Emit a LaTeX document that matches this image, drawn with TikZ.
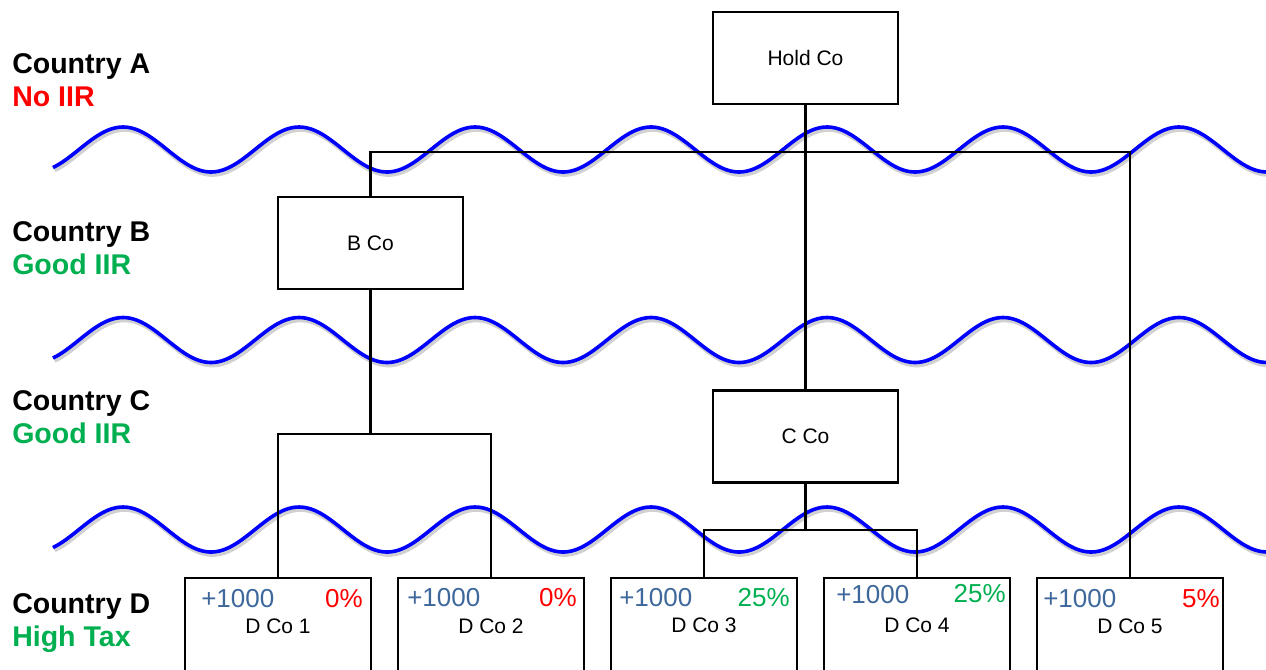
\documentclass[tikz,border=0pt]{standalone}
\usepackage{fontspec}
\setmainfont{Liberation Sans}
\definecolor{iirred}{RGB}{255,0,0}
\definecolor{iirgreen}{RGB}{0,176,80}
\definecolor{wavecol}{RGB}{0,0,255}
\definecolor{amtcol}{RGB}{62,104,156}
\begin{document}
\begin{tikzpicture}[x=0.75pt,y=-0.75pt,
  cobox/.style={draw, line width=1.9pt, fill=white, inner sep=0pt,
    minimum width=138.75pt, minimum height=69pt,
    font=\fontsize{15.75}{18}\selectfont},
  dbox/.style={draw, line width=1.9pt, fill=white, inner sep=0pt,
    minimum width=139.5pt, minimum height=90pt},
  link/.style={line width=1.6pt, black},
  wavel/.style={line width=2.7pt, wavecol},
  waveshadow/.style={line width=3.5pt, black!18},
  country/.style={inner sep=0pt, anchor=base west, font=\bfseries\fontsize{21.4}{25}\selectfont},
  amt/.style={inner sep=0pt, anchor=base west, text=amtcol, font=\fontsize{19.5}{22}\selectfont},
  pct/.style={inner sep=0pt, anchor=base east, font=\fontsize{19.5}{22}\selectfont},
  dname/.style={inner sep=0pt, anchor=base, font=\fontsize{15.75}{18}\selectfont}]
\useasboundingbox (0,0) rectangle (1266,669);
\clip (0,0) rectangle (1266,669);
\fill[white] (0,0) rectangle (1266,669);

% waves
\foreach \c in {149.5,340,529.5} {
  \draw[waveshadow] plot[domain=53:1266, samples=250, smooth]
    ({\x+1.5}, {\c+2.5-22.5*cos(2.0454545*(\x-123))});
  \draw[wavel] plot[domain=53:1266, samples=250, smooth]
    (\x, {\c-22.5*cos(2.0454545*(\x-123))});
}

% left labels
\node[country] (ca) at (12,73) {Country A};
\node[country, text=iirred] (ca2) at (12,106) {No IIR};
\node[country] (cb) at (12,241) {Country B};
\node[country, text=iirgreen] (cb2) at (12,274) {Good IIR};
\node[country] (cc) at (12,410) {Country C};
\node[country, text=iirgreen] (cc2) at (12,443) {Good IIR};
\node[country] (cd) at (12,613) {Country D};
\node[country, text=iirgreen] (cd2) at (12,646) {High Tax};

% company boxes
\node[cobox] (hold) at (805.5,58) {Hold Co};
\node[cobox] (bco) at (370.5,243) {B Co};
\node[cobox] (cco) at (805.5,436.5) {C Co};
\node[dbox] (d1) at (278,638) {};
\node[dbox] (d2) at (491,638) {};
\node[dbox] (d3) at (704,638) {};
\node[dbox] (d4) at (917,638) {};
\node[dbox] (d5) at (1130,638) {};

% connectors
\coordinate (ha) at (805.5,152);
\coordinate (hb) at (370.5,434);
\coordinate (hc) at (805.5,530);
\draw[link] (hold.south) -- (cco.north);
\draw[link] (bco.north) |- (ha) -| (d5.north);
\draw[link] (bco.south) -- (hb);
\draw[link] (d1.north) |- (hb) -| (d2.north);
\draw[link] (cco.south) -- (hc);
\draw[link] (d3.north) |- (hc) -| (d4.north);

% box texts
\node[amt] (a1) at (201,607) {+1000};
\node[amt] (a2) at (407,606) {+1000};
\node[amt] (a3) at (619,606) {+1000};
\node[amt] (a4) at (836,603) {+1000};
\node[amt] (a5) at (1043,607) {+1000};
\node[pct, text=iirred] (p1) at (363,607) {0\%};
\node[pct, text=iirred] (p2) at (577,606) {0\%};
\node[pct, text=iirgreen] (p3) at (790,606) {25\%};
\node[pct, text=iirgreen] (p4) at (1006,602) {25\%};
\node[pct, text=iirred] (p5) at (1220,607) {5\%};
\node[dname] (n1) at (278,633) {D Co 1};
\node[dname] (n2) at (491,633) {D Co 2};
\node[dname] (n3) at (704,632) {D Co 3};
\node[dname] (n4) at (917,632) {D Co 4};
\node[dname] (n5) at (1130,633) {D Co 5};
\end{tikzpicture}
\end{document}
